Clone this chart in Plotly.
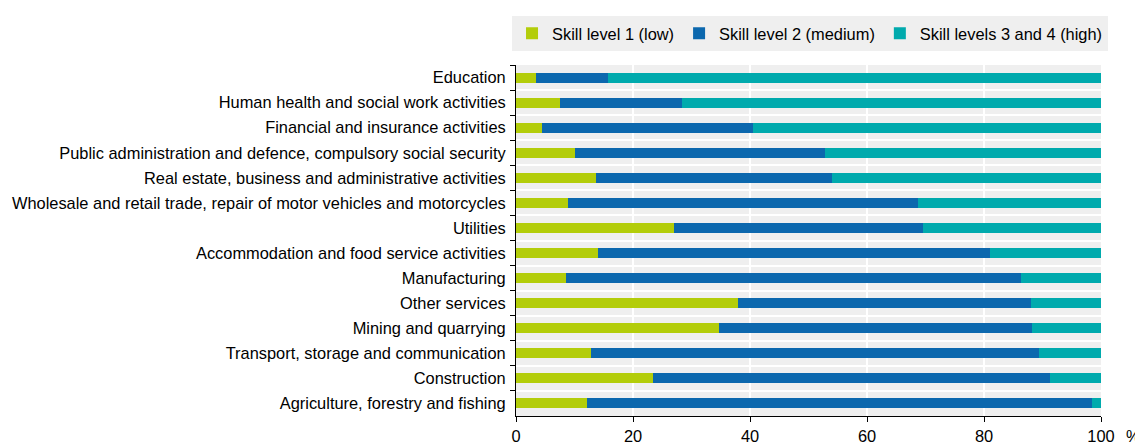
import plotly.graph_objects as go

categories = [
    "Education",
    "Human health and social work activities",
    "Financial and insurance activities",
    "Public administration and defence, compulsory social security",
    "Real estate, business and administrative activities",
    "Wholesale and retail trade, repair of motor vehicles and motorcycles",
    "Utilities",
    "Accommodation and food service activities",
    "Manufacturing",
    "Other services",
    "Mining and quarrying",
    "Transport, storage and communication",
    "Construction",
    "Agriculture, forestry and fishing",
]

# cumulative boundaries
low = [3.5, 7.5, 4.4, 10.0, 13.6, 8.9, 27.0, 14.1, 8.5, 37.9, 34.7, 12.9, 23.5, 12.1]
low_plus_medium = [15.8, 28.4, 40.5, 52.8, 54.1, 68.8, 69.6, 81.1, 86.3, 88.1, 88.2, 89.4, 91.2, 98.4]

medium = [round(b - a, 1) for a, b in zip(low, low_plus_medium)]
high = [round(100 - b, 1) for b in low_plus_medium]

series_names = ["Skill level 1 (low)", "Skill level 2 (medium)", "Skill levels 3 and 4 (high)"]
colors = ["#b3cd0a", "#0c68ae", "#00aaad"]
x_ticks = [0, 20, 40, 60, 80, 100]

fig = go.Figure()
for name, vals, col in zip(series_names, [low, medium, high], colors):
    fig.add_trace(go.Bar(
        y=categories, x=vals, name=name, orientation="h",
        marker=dict(color=col, line=dict(width=0)),
    ))

font_family = "Liberation Sans, Arial, sans-serif"
FS = 16.4
fig.update_layout(
    barmode="stack",
    bargap=0.6,
    width=1135, height=437,
    margin=dict(l=508, r=42, t=57, b=29, autoexpand=False),
    paper_bgcolor="white",
    plot_bgcolor="#efefef",
    font=dict(family=font_family, size=FS, color="#000000"),
    legend=dict(
        orientation="h", x=1.012, xanchor="right", y=1.139, yanchor="top",
        bgcolor="#efefef", font=dict(size=FS), traceorder="normal",
        itemwidth=30, tracegroupgap=0,
    ),
    xaxis=dict(
        range=[0, 100], tickvals=x_ticks, showgrid=True, gridcolor="white",
        gridwidth=2, zeroline=False, showline=True, linecolor="black",
        linewidth=1, ticks="outside", ticklen=5, tickcolor="black",
        tickfont=dict(size=FS),
    ),
    yaxis=dict(
        categoryorder="array", categoryarray=categories, autorange="reversed",
        tickson="boundaries", showgrid=True, gridcolor="white", gridwidth=2,
        showline=True, linecolor="black", linewidth=1, ticks="outside",
        ticklen=5, tickcolor="black", tickfont=dict(size=FS),
        ticklabelstandoff=6,
    ),
    annotations=[dict(
        text="%", xref="paper", yref="paper", x=1.056, y=0, yshift=-20,
        xanchor="center", yanchor="middle", showarrow=False,
        font=dict(size=FS),
    )],
)

fig.write_html("out.html")
